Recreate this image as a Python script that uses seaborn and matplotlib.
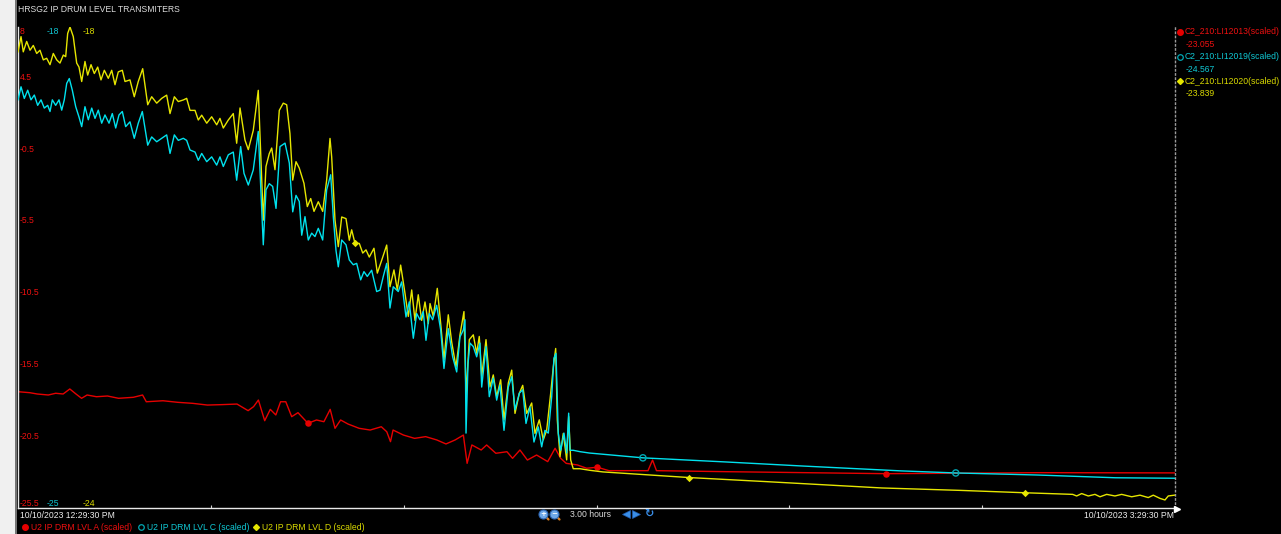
import numpy as np
import matplotlib
matplotlib.use("Agg")
import matplotlib.pyplot as plt
from matplotlib.patches import Rectangle
from matplotlib.lines import Line2D
import seaborn as sns

# Time axis: minutes after 10/10/2023 12:29:30 PM (3.00 hour window)
START_LABEL = "10/10/2023 12:29:30 PM"
END_LABEL = "10/10/2023 3:29:30 PM"
SPAN_LABEL = "3.00 hours"
TITLE = "HRSG2 IP DRUM LEVEL TRANSMITERS"

# U2 IP DRM LVL A (scaled) -- tag C2_210:LI12013
lvl_a_t = [0.0, 1.84, 2.99, 4.71, 5.86, 7.02, 8.06, 9.02, 9.89, 10.75,
           12.20, 13.92, 15.65, 17.95, 19.38, 19.96, 22.56, 24.86, 27.16, 29.46,
           31.77, 34.07, 35.80, 36.65, 37.40, 38.38, 39.25, 40.11, 40.85, 41.66,
           42.58, 43.56, 45.11, 46.44, 47.59, 48.57, 49.32, 50.19, 51.34, 53.07,
           54.79, 56.52, 57.37, 57.95, 58.35, 59.97, 61.70, 63.42, 65.15, 66.58,
           68.01, 69.29, 69.87, 70.61, 72.06, 72.91, 74.34, 76.07, 76.94, 78.09,
           79.25, 80.68, 82.41, 83.56, 84.43, 85.28, 87.01, 88.46, 90.12, 91.94,
           98.01, 98.72, 99.33, 110.13, 135.09, 158.63, 180.0]
lvl_a_v = [-17.40, -17.47, -17.56, -17.63, -17.51, -17.56, -17.21, -17.56, -17.86, -17.63,
           -17.75, -17.70, -17.86, -17.79, -17.63, -18.10, -18.03, -18.14, -18.21, -18.33,
           -18.30, -18.26, -18.72, -18.44, -17.98, -19.42, -18.63, -19.02, -18.10, -18.10,
           -19.14, -18.86, -19.60, -19.37, -19.49, -18.63, -19.95, -19.37, -19.65, -19.95,
           -20.07, -19.84, -20.19, -20.88, -20.07, -20.42, -20.65, -20.53, -20.76, -21.04,
           -20.76, -20.42, -22.39, -21.11, -21.46, -21.11, -21.69, -21.58, -22.04, -21.46,
           -22.16, -21.81, -22.27, -21.34, -22.04, -22.39, -22.50, -22.73, -22.66, -22.90,
           -22.90, -22.16, -22.90, -22.97, -23.11, -23.04, -23.055]

# U2 IP DRM LVL C (scaled) -- tag C2_210:LI12019
lvl_c_t = [0.0, 0.47, 0.98, 1.51, 2.02, 2.54, 3.06, 3.58, 4.09, 4.62,
           4.98, 5.34, 5.86, 6.38, 6.80, 7.20, 7.58, 7.98, 8.45, 8.98,
           9.49, 9.91, 10.42, 10.94, 11.47, 11.98, 12.49, 13.02, 13.53, 14.16,
           14.67, 15.20, 15.71, 16.23, 16.75, 17.42, 18.09, 18.71, 19.34, 20.18,
           20.80, 21.58, 22.36, 23.13, 23.65, 24.32, 24.94, 25.72, 26.24, 26.76,
           27.54, 28.05, 28.58, 29.36, 30.13, 30.91, 31.42, 31.94, 32.72, 33.49,
           34.02, 34.64, 35.16, 35.83, 36.60, 37.38, 37.91, 38.16, 38.58, 39.09,
           39.62, 40.14, 40.76, 41.54, 42.21, 42.74, 43.25, 43.76, 44.14, 44.65,
           45.16, 45.69, 46.20, 46.72, 47.40, 48.02, 48.65, 49.05, 49.47, 49.83,
           50.36, 51.03, 51.54, 52.16, 52.69, 53.31, 53.82, 54.34, 55.02, 55.80,
           56.32, 56.83, 57.36, 57.87, 58.38, 59.16, 59.69, 60.36, 60.87, 61.50,
           62.02, 62.54, 63.05, 63.47, 63.98, 64.51, 65.13, 65.76, 66.27, 66.94,
           67.62, 68.25, 68.76, 69.28, 69.54, 69.70, 70.01, 70.32, 70.83, 71.36,
           71.87, 72.14, 72.81, 73.32, 73.94, 74.47, 74.98, 75.61, 76.28, 76.81,
           77.32, 77.99, 78.52, 79.03, 79.65, 80.27, 80.94, 81.47, 81.98, 82.50,
           83.03, 83.38, 83.70, 84.05, 84.43, 84.94, 85.36, 85.67, 85.87, 86.38,
           87.42, 88.90, 97.22, 110.13, 122.25, 137.41, 145.89, 158.63, 170.75, 180.0]
lvl_c_v = [-19.06, -18.87, -19.04, -18.92, -19.06, -18.99, -19.14, -19.06, -19.18, -19.14,
           -19.23, -19.06, -19.14, -19.06, -19.21, -19.06, -18.82, -18.75, -18.92, -19.16,
           -19.31, -19.45, -19.16, -19.35, -19.18, -19.33, -19.21, -19.40, -19.28, -19.40,
           -19.26, -19.47, -19.28, -19.23, -19.45, -19.38, -19.62, -19.40, -19.23, -19.72,
           -19.60, -19.67, -19.62, -19.57, -19.84, -19.57, -19.65, -19.62, -19.65, -19.79,
           -19.82, -19.94, -19.84, -19.96, -19.89, -20.01, -19.89, -20.03, -19.86, -19.82,
           -20.23, -19.74, -20.13, -20.30, -20.08, -19.52, -20.62, -21.17, -20.37, -20.28,
           -20.32, -20.64, -19.74, -19.69, -19.98, -20.69, -20.45, -20.54, -21.03, -20.76,
           -21.10, -21.00, -21.05, -20.93, -21.10, -20.37, -20.15, -20.76, -21.25, -21.49,
           -21.10, -21.17, -21.39, -21.46, -21.44, -21.68, -21.56, -21.63, -21.54, -21.85,
           -21.83, -21.63, -21.44, -22.09, -21.78, -21.85, -21.71, -22.22, -22.00, -22.53,
           -22.17, -22.26, -22.14, -22.56, -22.17, -22.26, -22.05, -22.41, -22.97, -22.39,
           -22.80, -23.02, -22.51, -22.41, -22.26, -23.91, -22.90, -22.60, -22.65, -22.80,
           -22.60, -23.24, -22.65, -23.38, -23.11, -23.43, -23.21, -23.87, -23.24, -23.09,
           -23.57, -23.33, -23.28, -23.77, -23.53, -24.04, -23.82, -24.11, -23.87, -23.91,
           -23.38, -22.82, -22.75, -23.91, -24.16, -23.91, -24.20, -23.62, -24.16, -24.16,
           -24.18, -24.20, -24.27, -24.33, -24.39, -24.46, -24.49, -24.52, -24.56, -24.567]

# U2 IP DRM LVL D (scaled) -- tag C2_210:LI12020
lvl_d_t = [0.0, 0.47, 0.82, 1.35, 1.87, 2.38, 2.91, 3.42, 3.94, 4.46,
           4.98, 5.49, 6.02, 6.53, 7.05, 7.42, 7.73, 8.09, 8.60, 9.13,
           9.49, 9.91, 10.42, 10.84, 11.36, 11.87, 12.40, 12.91, 13.43, 14.05,
           14.58, 15.09, 15.60, 16.23, 16.65, 17.42, 18.09, 18.71, 19.40, 20.18,
           20.80, 21.58, 22.36, 23.13, 23.65, 24.32, 24.94, 25.72, 26.24, 26.76,
           27.54, 28.05, 28.58, 29.36, 30.13, 30.91, 31.42, 31.94, 32.72, 33.49,
           34.02, 34.54, 35.31, 35.83, 36.60, 37.38, 37.91, 38.16, 38.58, 39.09,
           39.47, 39.98, 40.65, 41.27, 41.80, 42.31, 42.74, 43.25, 43.76, 44.49,
           45.01, 45.54, 46.05, 46.72, 47.40, 48.02, 48.54, 48.80, 49.32, 49.83,
           50.36, 51.03, 51.54, 51.91, 52.43, 53.10, 53.63, 54.14, 54.65, 55.38,
           55.90, 56.58, 57.36, 57.87, 58.49, 59.01, 59.53, 60.20, 60.72, 61.25,
           61.76, 62.27, 62.80, 63.32, 63.83, 64.10, 64.61, 65.23, 65.76, 66.27,
           66.94, 67.47, 68.14, 68.76, 69.38, 69.70, 70.21, 70.83, 71.36, 71.76,
           72.14, 72.81, 73.43, 73.94, 74.47, 75.09, 75.61, 76.28, 76.81, 77.32,
           77.99, 78.52, 79.14, 79.92, 80.43, 81.10, 81.72, 82.25, 82.87, 83.28,
           83.65, 83.90, 84.32, 84.83, 85.36, 85.67, 85.98, 86.38, 87.42, 88.98,
           91.00, 104.37, 116.19, 134.38, 146.50, 156.69, 164.08, 164.70, 165.48, 166.51,
           167.55, 168.33, 169.37, 170.66, 171.70, 173.26, 174.55, 175.84, 176.62, 177.66,
           178.44, 178.95, 180.0]
lvl_d_v = [-18.31, -18.12, -18.31, -18.18, -18.29, -18.23, -18.33, -18.29, -18.41, -18.39,
           -18.47, -18.33, -18.41, -18.45, -18.35, -18.37, -18.08, -18.00, -18.12, -18.45,
           -18.50, -18.68, -18.43, -18.60, -18.47, -18.58, -18.50, -18.66, -18.54, -18.64,
           -18.54, -18.72, -18.56, -18.54, -18.68, -18.66, -18.87, -18.68, -18.52, -18.97,
           -18.87, -18.95, -18.89, -18.85, -19.08, -18.87, -18.93, -18.91, -18.89, -19.04,
           -19.04, -19.16, -19.10, -19.20, -19.12, -19.22, -19.14, -19.26, -19.16, -19.08,
           -19.45, -19.01, -19.41, -19.53, -19.29, -18.79, -19.91, -20.41, -19.74, -19.58,
           -19.51, -19.78, -19.04, -18.95, -18.97, -19.33, -19.91, -19.68, -19.76, -19.95,
           -20.24, -20.14, -20.30, -20.18, -20.30, -19.91, -19.39, -19.62, -20.41, -20.74,
           -20.37, -20.39, -20.66, -20.53, -20.70, -20.70, -20.82, -20.78, -20.87, -20.76,
           -21.07, -20.91, -20.72, -21.24, -21.03, -21.28, -20.97, -21.32, -21.61, -21.28,
           -21.66, -21.34, -21.66, -21.43, -21.70, -21.45, -21.61, -21.26, -21.70, -22.15,
           -21.59, -21.93, -22.24, -21.84, -21.55, -22.59, -21.90, -21.84, -22.07, -21.86,
           -22.36, -21.90, -22.49, -22.34, -22.61, -22.40, -22.90, -22.44, -22.28, -22.82,
           -22.57, -22.47, -22.82, -22.69, -23.07, -22.90, -23.15, -23.03, -22.57, -22.24,
           -22.01, -22.90, -23.36, -23.07, -23.40, -22.86, -23.40, -23.51, -23.51, -23.53,
           -23.55, -23.62, -23.67, -23.75, -23.78, -23.81, -23.83, -23.85, -23.82, -23.85,
           -23.83, -23.86, -23.83, -23.85, -23.83, -23.86, -23.84, -23.87, -23.84, -23.88,
           -23.90, -23.85, -23.839]

# Per-trace scale limits (top, bottom) shown at the left edge
scale_a = (8.0, -25.5)
scale_c = (-18.0, -25.0)
scale_d = (-18.0, -24.0)
scale_a_ticks = [4.5, -0.5, -5.5, -10.5, -15.5, -20.5]

# Symbol positions along each trace (minutes)
mark_a_t = [45.11, 90.12, 135.09]
mark_c_t = [97.22, 145.89]
mark_d_t = [52.43, 104.37, 156.69]

names = ["U2 IP DRM LVL A (scaled)", "U2 IP DRM LVL C (scaled)", "U2 IP DRM LVL D (scaled)"]
tags = ["C2_210:LI12013(scaled)", "C2_210:LI12019(scaled)", "C2_210:LI12020(scaled)"]
current = ["-23.055", "-24.567", "-23.839"]

RED, CYAN, YEL = "#e60000", "#00e2ee", "#e6e600"
RED_T, CYAN_T, YEL_T = "#ee1010", "#10c8d4", "#dada00"

FONT = ["Liberation Sans", "DejaVu Sans"]
FS = 6.2

W, H = 1281, 534
fig = plt.figure(figsize=(W / 100, H / 100), dpi=100, facecolor="black")


def fx(px):
    return px / W


def fy(py):
    return 1 - py / H


# window frame strip on the left
fig.patches.append(Rectangle((0, 0), fx(15), 1, transform=fig.transFigure,
                             facecolor="#f0f0f0", edgecolor="none", zorder=0))
fig.lines.append(Line2D([fx(15.5), fx(15.5)], [0, 1], transform=fig.transFigure,
                        color="#8c8c8c", lw=1.2))

L, R, T, B = 18, 1175, 27, 508
ax = fig.add_axes([fx(L), fy(B), (R - L) / W, (B - T) / H])
ax.set_facecolor("black")
ax_d = ax.twinx()
ax_c = ax.twinx()

sns.lineplot(x=lvl_a_t, y=lvl_a_v, ax=ax, color=RED, lw=1.0, estimator=None, sort=False)
sns.lineplot(x=lvl_d_t, y=lvl_d_v, ax=ax_d, color=YEL, lw=1.0, estimator=None, sort=False)
sns.lineplot(x=lvl_c_t, y=lvl_c_v, ax=ax_c, color=CYAN, lw=1.0, estimator=None, sort=False)


def picks(t, v, marks):
    t = np.asarray(t)
    idx = [int(np.abs(t - m).argmin()) for m in marks]
    return t[idx], np.asarray(v)[idx]


mx, my = picks(lvl_a_t, lvl_a_v, mark_a_t)
sns.scatterplot(x=mx, y=my, ax=ax, color=RED, marker="o", s=22, edgecolor=RED, linewidth=0, zorder=5)
mx, my = picks(lvl_c_t, lvl_c_v, mark_c_t)
sns.scatterplot(x=mx, y=my, ax=ax_c, color=CYAN, marker="o", s=20, facecolor="none",
                edgecolor="#00a8b4", linewidth=1.0, zorder=5)
mx, my = picks(lvl_d_t, lvl_d_v, mark_d_t)
sns.scatterplot(x=mx, y=my, ax=ax_d, color=YEL, marker="D", s=14, edgecolor=YEL, linewidth=0, zorder=5)

for a, lim in ((ax, scale_a), (ax_c, scale_c), (ax_d, scale_d)):
    a.set_xlim(0, 180)
    a.set_ylim(lim[1], lim[0])
    a.set_ylabel("")
    a.set_xlabel("")
    a.set_yticks([])
    for s in a.spines.values():
        s.set_visible(False)

ax.set_xticks([30, 60, 90, 120, 150])
ax.tick_params(axis="x", direction="in", length=2, color="#d0d0d0", labelbottom=False)
ax.spines["left"].set_visible(True)
ax.spines["left"].set_color("#e8e8e8")
ax.spines["left"].set_linewidth(1.0)
ax.spines["bottom"].set_visible(True)
ax.spines["bottom"].set_color("#e8e8e8")
ax.spines["bottom"].set_linewidth(1.0)
ax.spines["right"].set_visible(True)
ax.spines["right"].set_color("#9a9a9a")
ax.spines["right"].set_linewidth(1.0)
ax.spines["right"].set_linestyle((0, (1, 2)))

# scale labels at the left edge
ytr = ax.get_yaxis_transform()
ax.text(0.0017, scale_a[0], f"{scale_a[0]:g}", transform=ytr, va="top", ha="left",
        color=RED_T, fontsize=FS, family=FONT)
ax.text(0.0017, scale_a[1], f"{scale_a[1]:g}", transform=ytr, va="bottom", ha="left",
        color=RED_T, fontsize=FS, family=FONT)
for v in scale_a_ticks:
    ax.text(0.0017, v, f"{v:g}", transform=ytr, va="center", ha="left",
            color=RED_T, fontsize=FS, family=FONT)
ctr = ax_c.get_yaxis_transform()
ax_c.text(0.025, scale_c[0], f"{scale_c[0]:g}", transform=ctr, va="top", ha="left",
          color=CYAN_T, fontsize=FS, family=FONT)
ax_c.text(0.025, scale_c[1], f"{scale_c[1]:g}", transform=ctr, va="bottom", ha="left",
          color=CYAN_T, fontsize=FS, family=FONT)
dtr = ax_d.get_yaxis_transform()
ax_d.text(0.056, scale_d[0], f"{scale_d[0]:g}", transform=dtr, va="top", ha="left",
          color=YEL_T, fontsize=FS, family=FONT)
ax_d.text(0.056, scale_d[1], f"{scale_d[1]:g}", transform=dtr, va="bottom", ha="left",
          color=YEL_T, fontsize=FS, family=FONT)

# title
fig.text(fx(18), fy(10), TITLE, color="#dcdcdc", fontsize=FS, family=FONT, va="center", ha="left")

# current values panel on the right
marker_style = [dict(marker="o", mfc=RED, mec=RED, ms=4),
                dict(marker="o", mfc="none", mec="#00a8b4", ms=4, mew=0.9),
                dict(marker="D", mfc=YEL, mec=YEL, ms=3)]
colors_t = [RED_T, CYAN_T, YEL_T]
for i in range(3):
    y0 = 32 + 24.5 * i
    fig.lines.append(Line2D([fx(1180)], [fy(y0)], transform=fig.transFigure, ls="", **marker_style[i]))
    fig.text(fx(1185), fy(y0), tags[i], color=colors_t[i], fontsize=FS, family=FONT,
             va="center", ha="left")
    fig.text(fx(1186), fy(y0 + 12.5), current[i], color=colors_t[i], fontsize=FS, family=FONT,
             va="center", ha="left")

# legend along the bottom
leg_x = [25, 141, 256]
for i in range(3):
    fig.lines.append(Line2D([fx(leg_x[i])], [fy(527)], transform=fig.transFigure, ls="",
                            **marker_style[i]))
    fig.text(fx(leg_x[i] + 6), fy(527), names[i], color=colors_t[i], fontsize=FS, family=FONT,
             va="center", ha="left")

# time range labels
fig.text(fx(20), fy(515.5), START_LABEL, color="#ececec", fontsize=FS, family=FONT, va="center", ha="left")
fig.text(fx(1174), fy(515.5), END_LABEL, color="#ececec", fontsize=FS, family=FONT, va="center", ha="right")
fig.text(fx(570), fy(514.5), SPAN_LABEL, color="#dcdcdc", fontsize=FS, family=FONT, va="center", ha="left")

# toolbar glyphs: zoom in / zoom out / scroll / refresh
for cx, sign in ((543, "+"), (554, "\u2212")):
    fig.lines.append(Line2D([fx(cx + 3), fx(cx + 5.5)], [fy(517), fy(519.5)], transform=fig.transFigure,
                            color="#e08020", lw=1.6, solid_capstyle="round"))
    fig.lines.append(Line2D([fx(cx)], [fy(514)], transform=fig.transFigure, ls="", marker="o",
                            ms=6.5, mfc="#6fa8e8", mec="#2c64b0", mew=0.8))
    fig.text(fx(cx), fy(514), sign, color="white", fontsize=5, family="DejaVu Sans",
             va="center", ha="center", fontweight="bold")
fig.lines.append(Line2D([fx(626)], [fy(514)], transform=fig.transFigure, ls="", marker="<",
                        ms=6, mfc="#3a8ee8", mec="#1d5bb0", mew=0.5))
fig.lines.append(Line2D([fx(636)], [fy(514)], transform=fig.transFigure, ls="", marker=">",
                        ms=6, mfc="#3a8ee8", mec="#1d5bb0", mew=0.5))
fig.text(fx(649), fy(514), "\u21bb", color="#3a8ee8", fontsize=8, family="DejaVu Sans",
         va="center", ha="center", fontweight="bold")

# end-of-window marker
fig.lines.append(Line2D([fx(1176.5)], [fy(509)], transform=fig.transFigure, ls="", marker=">",
                        ms=4, mfc="white", mec="white"))

fig.savefig("out.png", dpi=100, facecolor="black")
